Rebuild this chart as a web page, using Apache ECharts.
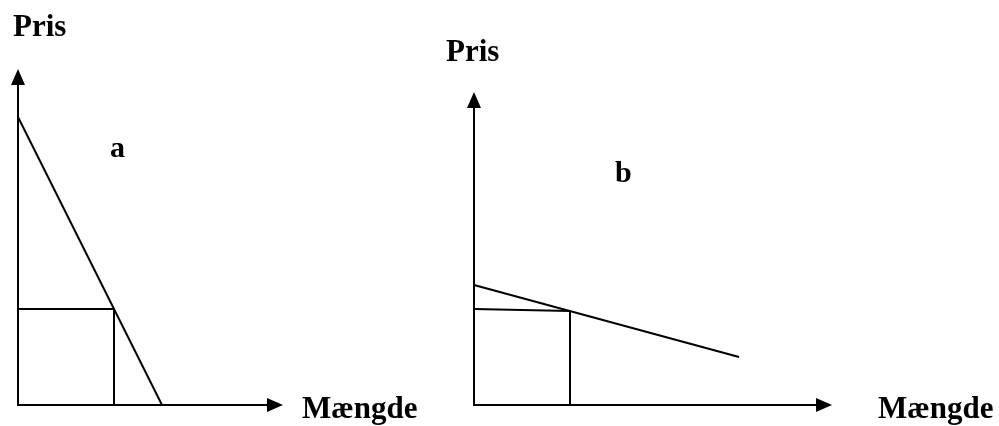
<!DOCTYPE html>
<html>
<head>
<meta charset="utf-8">
<script src="https://cdn.jsdelivr.net/npm/echarts@6/dist/echarts.min.js"></script>
<style>
  html, body { margin: 0; padding: 0; background: #fff; }
  #chart { width: 999px; height: 426px; }
</style>
</head>
<body>
<div id="chart"></div>
<script>
// axis extents (same units as the points below)
const axisMaxA = [257, 328];
const axisMaxB = [350, 305];

// panel a: steep demand line and the price x quantity box
const demandA = [[0, 288], [144, 0]];
const boxA = [[0, 96], [96, 96], [96, 0]];

// panel b: flat demand line and its box
const demandB = [[0, 120], [265, 48]];
const boxB = [[0, 96], [96, 94], [96, 0]];

const axisTitles = ['Pris', 'Mængde'];
const panelLetters = ['a', 'b'];

const chart = echarts.init(document.getElementById('chart'));

const font = '"Liberation Serif", "Times New Roman", serif';
const ink = '#000';

const axisLine = {
  show: true,
  symbol: ['none', 'triangle'],
  symbolSize: [14, 16],
  symbolOffset: [0, 0],
  lineStyle: { color: ink, width: 2 }
};

const bareAxis = (max, gridIndex) => ({
  type: 'value',
  gridIndex,
  min: 0,
  max,
  axisLine,
  axisTick: { show: false },
  axisLabel: { show: false },
  splitLine: { show: false }
});

const lineSeries = (data, idx) => ({
  type: 'line',
  xAxisIndex: idx,
  yAxisIndex: idx,
  data,
  symbol: 'none',
  silent: true,
  lineStyle: { color: ink, width: 2 }
});

const label = (text, left, top, size) => ({
  type: 'text',
  left,
  top,
  style: { text, font: 'bold ' + size + 'px ' + font, fill: ink }
});

chart.setOption({
  animation: false,
  backgroundColor: '#fff',
  grid: [
    { left: 18, top: 77, width: axisMaxA[0], height: axisMaxA[1] },
    { left: 474, top: 100, width: axisMaxB[0], height: axisMaxB[1] }
  ],
  xAxis: [bareAxis(axisMaxA[0], 0), bareAxis(axisMaxB[0], 1)],
  yAxis: [bareAxis(axisMaxA[1], 0), bareAxis(axisMaxB[1], 1)],
  series: [
    lineSeries(demandA, 0),
    lineSeries(boxA, 0),
    lineSeries(demandB, 1),
    lineSeries(boxB, 1)
  ],
  graphic: [
    label(axisTitles[0], 13, 12, 31),
    label(axisTitles[1], 302, 394, 31),
    label(panelLetters[0], 110, 134, 30),
    label(axisTitles[0], 446, 37, 31),
    label(axisTitles[1], 878, 394, 31),
    label(panelLetters[1], 615, 159, 30)
  ]
});
</script>
</body>
</html>
